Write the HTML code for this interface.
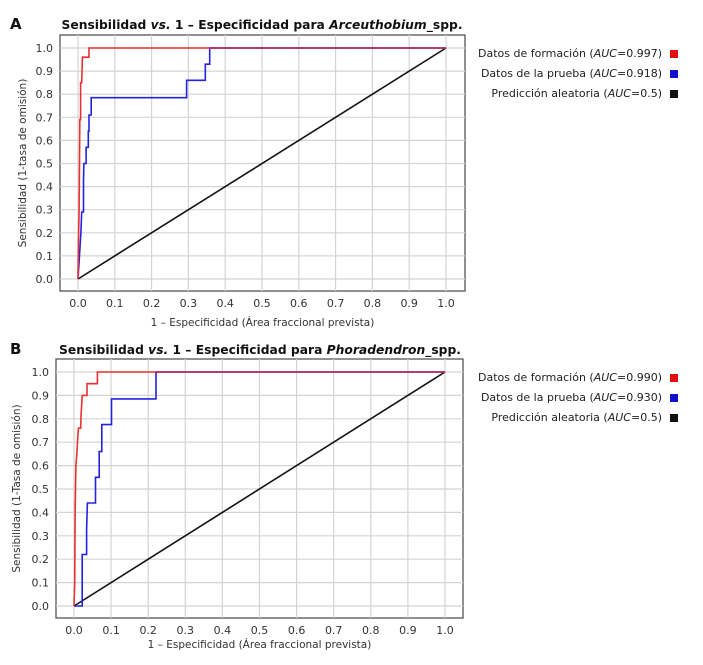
<!DOCTYPE html>
<html><head><meta charset="utf-8"><style>
html,body{margin:0;padding:0;background:#fff;}
svg{display:block;font-family:"DejaVu Sans","Liberation Sans",sans-serif;}
</style></head><body>
<svg id="s" width="703" height="665" viewBox="0 0 703 665"></svg>
<script>
const s=document.getElementById('s');let h='';
function panel(o){
 const {bx0,bx1,by0,by1,x0,x1,y0,y1}=o;
 const X=v=>x0+v*(x1-x0), Y=v=>y0+v*(y1-y0);
 h+=`<text x="${o.lx}" y="${o.ly}" font-size="15" font-weight="bold" fill="#111">${o.L}</text>`;
 h+=`<text x="${o.tx}" y="${o.ly}" font-size="12.3" font-weight="bold" text-anchor="middle" fill="#111">Sensibilidad <tspan font-style="italic">vs.</tspan> 1 – Especificidad para <tspan font-style="italic">${o.sp}</tspan>_spp.</text>`;
 h+=`<rect x="${bx0}" y="${by0}" width="${bx1-bx0}" height="${by1-by0}" fill="#fff" stroke="#555" stroke-width="1.3"/>`;
 for(let i=0;i<=10;i++){const v=i/10,gx=X(v),gy=Y(v);
  h+=`<line x1="${gx}" y1="${by0}" x2="${gx}" y2="${by1}" stroke="#d4d4d4" stroke-width="1.2"/>`;
  h+=`<line x1="${bx0}" y1="${gy}" x2="${bx1}" y2="${gy}" stroke="#d4d4d4" stroke-width="1.2"/>`;
  h+=`<text x="${gx}" y="${by1+16}" font-size="11" text-anchor="middle" fill="#333">${v.toFixed(1)}</text>`;
  h+=`<text x="${bx0-7}" y="${gy+4}" font-size="11" text-anchor="end" fill="#333">${v.toFixed(1)}</text>`;
 }
 h+=`<text x="${(bx0+bx1)/2}" y="${o.xly}" font-size="10.5" text-anchor="middle" fill="#333">1 – Especificidad (Área fraccional prevista)</text>`;
 h+=`<text transform="translate(${o.ylx},${(by0+by1)/2}) rotate(-90)" font-size="10.5" text-anchor="middle" fill="#333">${o.ylab}</text>`;
 const pl=(pts,c)=>{h+=`<polyline fill="none" stroke="${c}" stroke-width="1.6" points="${pts.map(p=>X(p[0]).toFixed(1)+','+Y(p[1]).toFixed(1)).join(' ')}"/>`;};
 pl([[0,0],[1,1]],'#111');
 pl(o.blue,'#2323dd');
 pl(o.red,'#e83232');
 h+=`<line x1="${X(o.redEnd)}" y1="${Y(1)}" x2="${X(1)}" y2="${Y(1)}" stroke="#b03060" stroke-width="1.6"/>`;
 const lg=[['Datos de formación',o.a1,'#e01010'],['Datos de la prueba',o.a2,'#1010d0'],['Predicción aleatoria','0.5','#111']];
 lg.forEach((r,i)=>{const yy=o.legY+i*20;
  h+=`<text x="662" y="${yy+4}" font-size="11" text-anchor="end" fill="#222">${r[0]} (<tspan font-style="italic">AUC</tspan>=${r[1]})</text>`;
  h+=`<rect x="670" y="${yy-3}" width="8" height="8" fill="${r[2]}"/>`;});
}
panel({L:'A',lx:10,ly:29,tx:262,sp:'Arceuthobium',bx0:60,bx1:465,by0:35,by1:291,x0:78,x1:446,y0:279,y1:48,xly:326,ylx:26,
 ylab:'Sensibilidad (1-tasa de omisión)',a1:'0.997',a2:'0.918',legY:53,redEnd:0.358,
 red:[[0,0],[0.001,0.15],[0.003,0.3],[0.004,0.5],[0.005,0.69],[0.007,0.69],[0.007,0.85],[0.01,0.85],[0.012,0.96],[0.03,0.96],[0.03,1],[1,1]],
 blue:[[0,0],[0.008,0.2],[0.01,0.29],[0.015,0.29],[0.015,0.43],[0.016,0.5],[0.022,0.5],[0.022,0.57],[0.028,0.57],[0.028,0.64],[0.03,0.64],[0.03,0.71],[0.036,0.71],[0.036,0.785],[0.295,0.785],[0.295,0.86],[0.346,0.86],[0.346,0.93],[0.358,0.93],[0.358,1],[1,1]]});
panel({L:'B',lx:10,ly:354,tx:260,sp:'Phoradendron',bx0:56,bx1:463,by0:359,by1:618,x0:74,x1:445,y0:606,y1:372,xly:648,ylx:20,
 ylab:'Sensibilidad (1-Tasa de omisión)',a1:'0.990',a2:'0.930',legY:377,redEnd:0.221,
 red:[[0,0],[0.002,0.1],[0.003,0.38],[0.005,0.6],[0.008,0.66],[0.01,0.72],[0.012,0.76],[0.018,0.76],[0.019,0.81],[0.022,0.9],[0.035,0.9],[0.035,0.95],[0.063,0.95],[0.063,1],[1,1]],
 blue:[[0,0],[0.022,0],[0.022,0.22],[0.034,0.22],[0.034,0.33],[0.036,0.44],[0.058,0.44],[0.058,0.55],[0.068,0.55],[0.068,0.66],[0.075,0.66],[0.075,0.775],[0.101,0.775],[0.101,0.885],[0.221,0.885],[0.221,1],[1,1]]});
s.innerHTML=h;
</script>
</body></html>
